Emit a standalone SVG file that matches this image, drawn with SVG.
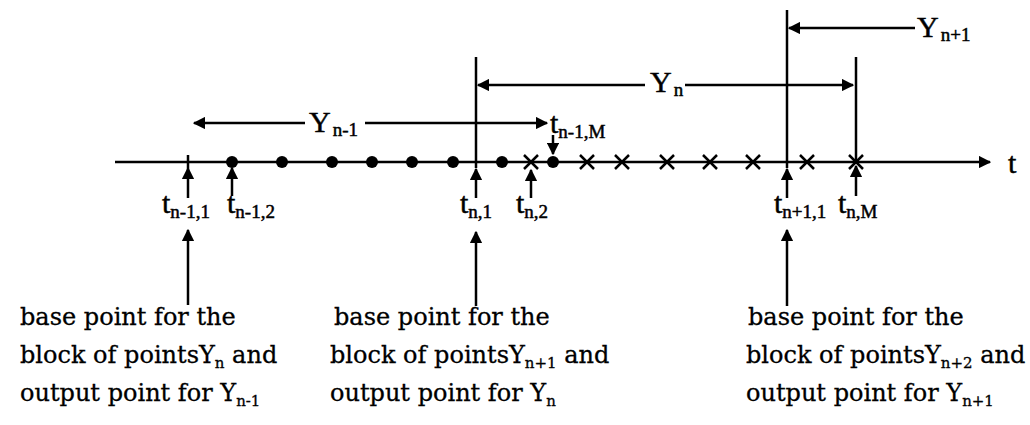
<svg xmlns="http://www.w3.org/2000/svg" width="1030" height="425" viewBox="0 0 1030 425">
<style>
.ln{stroke:#000;stroke-width:2.5;fill:none}
.lab{font-family:"Liberation Serif","Times New Roman",serif;font-size:30px;fill:#000;stroke:#000;stroke-width:0.5}
.sub{font-size:19px}
.bt{font-family:"DejaVu Serif",serif;font-size:24px;fill:#000;stroke:#000;stroke-width:0.3}
.bs{font-size:15px}
.dot{fill:#000}
.x{stroke:#000;stroke-width:2.5}
</style>
<defs>
<marker id="ah" viewBox="0 0 10 10" refX="9" refY="5" markerWidth="5" markerHeight="5" orient="auto-start-reverse" markerUnits="strokeWidth">
<path d="M0,0 L10,5 L0,10 z" fill="#000"/>
</marker>
</defs>
<rect width="1030" height="425" fill="#fff"/>
<g id="connectors">
<line class="ln" x1="115" y1="162" x2="990" y2="162" marker-end="url(#ah)"/>
<line class="ln" x1="188" y1="155" x2="188" y2="168"/>
<line class="ln" x1="476" y1="57" x2="476" y2="168"/>
<line class="ln" x1="787" y1="10" x2="787" y2="168"/>
<line class="ln" x1="856" y1="57" x2="856" y2="162"/>
<line class="ln" x1="305" y1="123" x2="194" y2="123" marker-end="url(#ah)"/>
<line class="ln" x1="365" y1="123" x2="547" y2="123" marker-end="url(#ah)"/>
<line class="ln" x1="645" y1="85" x2="478" y2="85" marker-end="url(#ah)"/>
<line class="ln" x1="685" y1="85" x2="853" y2="85" marker-end="url(#ah)"/>
<line class="ln" x1="915" y1="28" x2="789" y2="28" marker-end="url(#ah)"/>
<line class="ln" x1="553" y1="135" x2="553" y2="154" marker-end="url(#ah)"/>
<line class="ln" x1="188" y1="198" x2="188" y2="168" marker-end="url(#ah)"/>
<line class="ln" x1="232" y1="196" x2="232" y2="168" marker-end="url(#ah)"/>
<line class="ln" x1="476" y1="198" x2="476" y2="169" marker-end="url(#ah)"/>
<line class="ln" x1="531" y1="198" x2="531" y2="170" marker-end="url(#ah)"/>
<line class="ln" x1="787" y1="198" x2="787" y2="169" marker-end="url(#ah)"/>
<line class="ln" x1="856" y1="196" x2="856" y2="166" marker-end="url(#ah)"/>
<line class="ln" x1="188" y1="305" x2="188" y2="230" marker-end="url(#ah)"/>
<line class="ln" x1="476" y1="306" x2="476" y2="232" marker-end="url(#ah)"/>
<line class="ln" x1="787" y1="306" x2="787" y2="230" marker-end="url(#ah)"/>
</g>
<g id="points">
<circle class="dot" cx="232" cy="162" r="6"/>
<circle class="dot" cx="282" cy="162" r="6"/>
<circle class="dot" cx="332" cy="162" r="6"/>
<circle class="dot" cx="372" cy="162" r="6"/>
<circle class="dot" cx="412" cy="162" r="6"/>
<circle class="dot" cx="453" cy="162" r="6"/>
<circle class="dot" cx="502" cy="162" r="6"/>
<circle class="dot" cx="553" cy="162" r="6"/>
<path class="x" d="M524,155 l14,14 M538,155 l-14,14 M580,155 l14,14 M594,155 l-14,14 M615,155 l14,14 M629,155 l-14,14 M660,155 l14,14 M674,155 l-14,14 M703,155 l14,14 M717,155 l-14,14 M746,155 l14,14 M760,155 l-14,14 M800,155 l14,14 M814,155 l-14,14 M849,155 l14,14 M863,155 l-14,14"/>
</g>
<g id="axis-label"><text class="lab" x="1008" y="173">t</text></g>
<g id="Y-labels">
<text class="lab" x="309" y="132">Y<tspan class="sub" dx="2" dy="4">n-1</tspan></text>
<text class="lab" x="650" y="92">Y<tspan class="sub" dx="2" dy="4">n</tspan></text>
<text class="lab" x="917" y="37">Y<tspan class="sub" dx="2" dy="4">n+1</tspan></text>
</g>
<g id="t-labels">
<text class="lab" x="162" y="213">t<tspan class="sub" dy="5">n-1,1</tspan></text>
<text class="lab" x="227" y="213">t<tspan class="sub" dy="5">n-1,2</tspan></text>
<text class="lab" x="460" y="213">t<tspan class="sub" dy="5">n,1</tspan></text>
<text class="lab" x="516" y="213">t<tspan class="sub" dy="5">n,2</tspan></text>
<text class="lab" x="774" y="213">t<tspan class="sub" dy="5">n+1,1</tspan></text>
<text class="lab" x="838" y="213">t<tspan class="sub" dy="5">n,M</tspan></text>
<text class="lab" x="550" y="133">t<tspan class="sub" dy="5">n-1,M</tspan></text>
</g>
<g id="note1">
<text class="bt" x="20" y="325">base point for the</text>
<text class="bt" x="20" y="363">block of pointsY<tspan class="bs" dy="5">n</tspan><tspan dy="-5"> and</tspan></text>
<text class="bt" x="20" y="401">output point for Y<tspan class="bs" dy="5">n-1</tspan></text>
</g>
<g id="note2">
<text class="bt" x="334" y="325">base point for the</text>
<text class="bt" x="330" y="363">block of pointsY<tspan class="bs" dy="5">n+1</tspan><tspan dy="-5"> and</tspan></text>
<text class="bt" x="330" y="401">output point for Y<tspan class="bs" dy="5">n</tspan></text>
</g>
<g id="note3">
<text class="bt" x="748" y="325">base point for the</text>
<text class="bt" x="746" y="363">block of pointsY<tspan class="bs" dy="5">n+2</tspan><tspan dy="-5"> and</tspan></text>
<text class="bt" x="746" y="401">output point for Y<tspan class="bs" dy="5">n+1</tspan></text>
</g>
</svg>
